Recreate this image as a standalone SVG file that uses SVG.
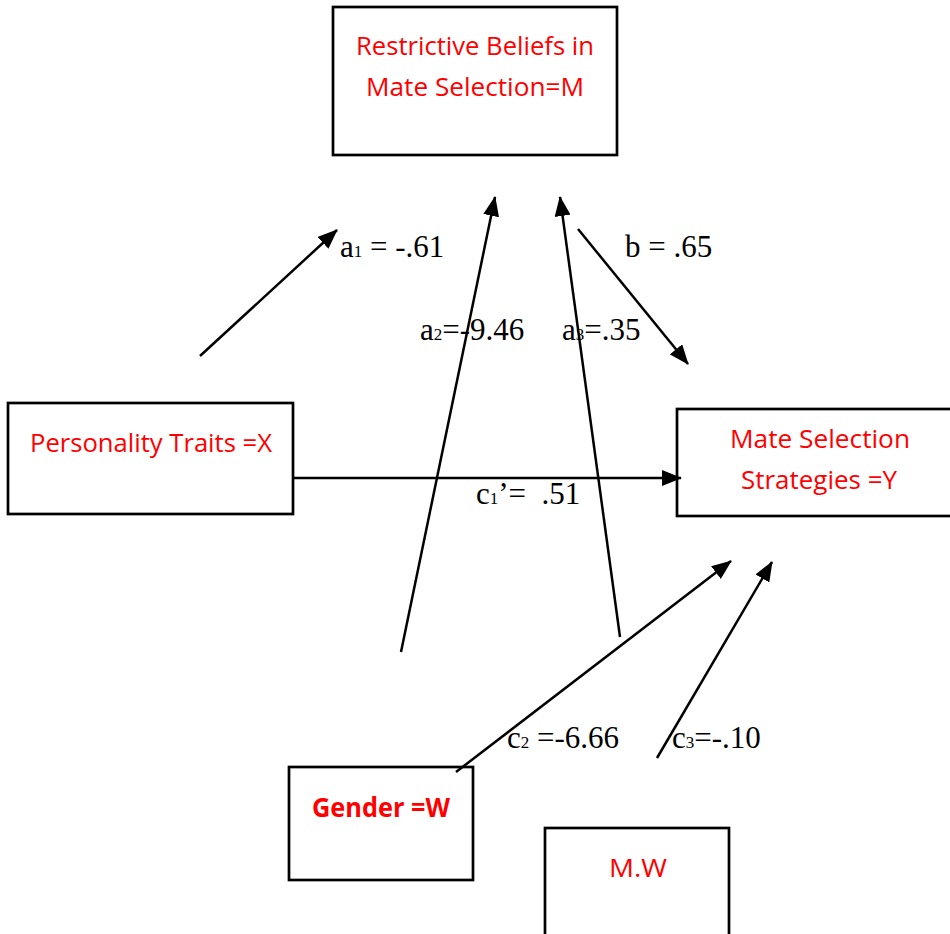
<svg xmlns="http://www.w3.org/2000/svg" width="950" height="934" viewBox="0 0 950 934">
<defs>
<style>
.box{fill:#fff;stroke:#000;stroke-width:2.7}
.nt{font-family:"Open Sans","Liberation Sans",sans-serif;font-size:26px;fill:#ff0000;text-anchor:middle}
.lbl{font-family:"Liberation Serif","Times New Roman",serif;font-size:31px;fill:#000;white-space:pre}
.sub{font-size:17px}
.ln{stroke:#000;stroke-width:2.5;fill:none;marker-end:url(#ah)}
</style>
<marker id="ah" markerUnits="userSpaceOnUse" markerWidth="20" markerHeight="16" viewBox="0 0 20 16" refX="19" refY="8" orient="auto">
<path d="M0,0 L20,8 L0,16 Z" fill="#000"/>
</marker>
</defs>
<rect width="950" height="934" fill="#fff"/>
<g id="node-M">
<rect class="box" x="333" y="7" width="284" height="148"/>
<text class="nt" x="475" y="55" textLength="238" lengthAdjust="spacingAndGlyphs">Restrictive Beliefs in</text>
<text class="nt" x="475" y="96" textLength="218" lengthAdjust="spacingAndGlyphs">Mate Selection=M</text>
</g>
<g id="node-X">
<rect class="box" x="8" y="403" width="285" height="111"/>
<text class="nt" x="151" y="452" textLength="242" lengthAdjust="spacingAndGlyphs">Personality Traits =X</text>
</g>
<g id="node-Y">
<rect class="box" x="677" y="409" width="290" height="107"/>
<text class="nt" x="820" y="448" textLength="180" lengthAdjust="spacingAndGlyphs">Mate Selection</text>
<text class="nt" x="819" y="489" textLength="156" lengthAdjust="spacingAndGlyphs">Strategies =Y</text>
</g>
<g id="node-W">
<rect class="box" x="289" y="767" width="184" height="113"/>
<text class="nt" x="381" y="817" font-weight="bold" textLength="138" lengthAdjust="spacingAndGlyphs">Gender =W</text>
</g>
<g id="node-MW">
<rect class="box" x="545" y="828" width="184" height="120"/>
<text class="nt" x="638" y="877" textLength="58" lengthAdjust="spacingAndGlyphs">M.W</text>
</g>
<g id="connectors">
<line class="ln" x1="200" y1="356" x2="337" y2="230"/>
<line class="ln" x1="401" y1="652" x2="495" y2="197"/>
<line class="ln" x1="620" y1="637" x2="560" y2="197"/>
<line class="ln" x1="578" y1="229" x2="688" y2="364"/>
<line class="ln" x1="293" y1="478" x2="681" y2="478"/>
<line class="ln" x1="456" y1="772" x2="731" y2="561"/>
<line class="ln" x1="657" y1="758" x2="772" y2="562"/>
</g>
<g id="labels">
<text class="lbl" x="340" y="257">a<tspan class="sub">1</tspan> = -.61</text>
<text class="lbl" x="625" y="257">b = .65</text>
<text class="lbl" x="420" y="340">a<tspan class="sub">2</tspan>=-9.46</text>
<text class="lbl" x="562" y="340">a<tspan class="sub">3</tspan>=.35</text>
<text class="lbl" x="476" y="504">c<tspan class="sub">1</tspan>’=  .51</text>
<text class="lbl" x="507" y="748">c<tspan class="sub">2</tspan> =-6.66</text>
<text class="lbl" x="672" y="748">c<tspan class="sub">3</tspan>=-.10</text>
</g>
</svg>
